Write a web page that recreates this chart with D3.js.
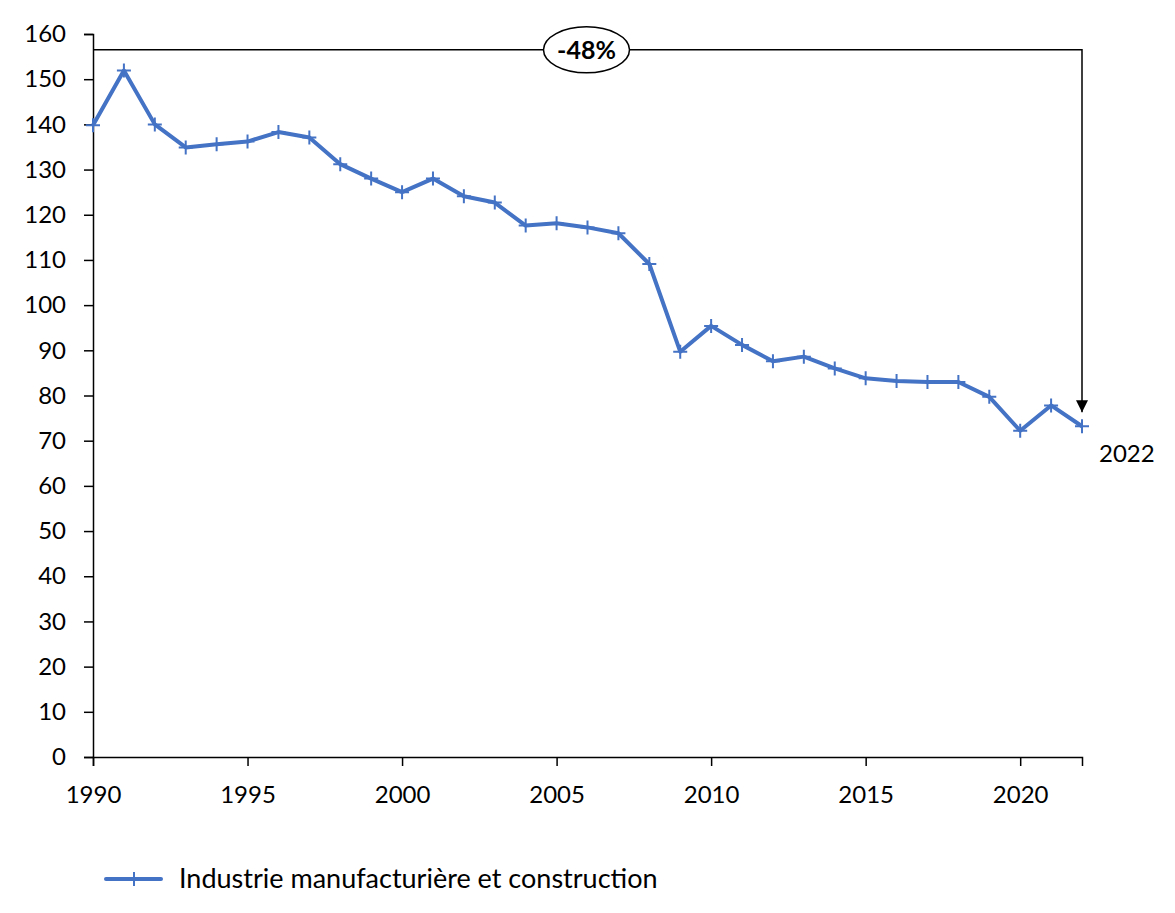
<!DOCTYPE html>
<html>
<head>
<meta charset="utf-8">
<script src="https://cdn.jsdelivr.net/npm/d3@7"></script>
<style>
  body { margin: 0; background: #fff; }
  text { font-family: Lato, "Open Sans", sans-serif; }
</style>
</head>
<body>
<div id="chart"></div>
<script>
// données
const years = d3.range(1990, 2023);
const values = [139.8, 151.9, 140.0, 134.9, 135.6, 136.2, 138.3, 137.1, 131.2, 128.0,
                125.0, 128.0, 124.1, 122.7, 117.6, 118.1, 117.2, 115.9, 109.1, 89.7,
                95.4, 91.2, 87.6, 88.6, 86.0, 83.8, 83.2, 83.0, 83.0, 79.7,
                72.2, 77.8, 73.2];
const yTicks = d3.range(0, 161, 10);
const xTicks = [1990, 1995, 2000, 2005, 2010, 2015, 2020];
const seriesName = 'Industrie manufacturière et construction';
const changeLabel = '-48%';
const endLabel = '2022';

const width = 1175, height = 913;
const blue = '#4472C4';

const svg = d3.select('#chart').append('svg')
    .attr('width', width)
    .attr('height', height);

const x = d3.scaleLinear().domain([1990, 2022]).range([93, 1082]);
const y = d3.scaleLinear().domain([0, 160]).range([757, 34]);

// axe Y
const yAxis = svg.append('g')
    .attr('transform', 'translate(93,0)')
    .call(d3.axisLeft(y).tickValues(yTicks).tickSize(9).tickPadding(18));
yAxis.select('.domain').attr('stroke', '#000').attr('stroke-width', 1.5);
yAxis.selectAll('.tick line').attr('stroke', '#000').attr('stroke-width', 1.5);
yAxis.selectAll('.tick text').attr('font-size', 24).attr('fill', '#000')
    .attr('font-family', 'Lato, sans-serif');

// axe X
const xAxis = svg.append('g')
    .attr('transform', 'translate(0,757)')
    .call(d3.axisBottom(x).tickValues(xTicks).tickFormat(d3.format('d')).tickSize(9));
xAxis.select('.domain').attr('stroke', '#000').attr('stroke-width', 1.5);
xAxis.selectAll('.tick line').attr('stroke', '#000').attr('stroke-width', 1.5);
xAxis.selectAll('.tick text').attr('font-size', 24).attr('fill', '#000')
    .attr('font-family', 'Lato, sans-serif')
    .attr('y', 46).attr('dy', 0);

// annotation -48%
const topY = y(156.5);
const lastY = y(values[values.length - 1]);
svg.append('defs').append('marker')
    .attr('id', 'arrow')
    .attr('viewBox', '0 0 10 10')
    .attr('refX', 10).attr('refY', 5)
    .attr('markerWidth', 12).attr('markerHeight', 12)
    .attr('markerUnits', 'userSpaceOnUse')
    .attr('orient', 'auto')
    .append('path').attr('d', 'M0,0 L10,5 L0,10 Z').attr('fill', '#000');

svg.append('path')
    .attr('d', `M${x(1990)},${topY} H${x(2022)} V${lastY - 14}`)
    .attr('fill', 'none')
    .attr('stroke', '#000')
    .attr('stroke-width', 1.5)
    .attr('marker-end', 'url(#arrow)');

const cx = x(2006) - 1;
svg.append('ellipse')
    .attr('cx', cx).attr('cy', topY)
    .attr('rx', 43).attr('ry', 23)
    .attr('fill', '#fff').attr('stroke', '#000').attr('stroke-width', 1.5);
svg.append('text')
    .attr('x', cx).attr('y', topY + 9)
    .attr('text-anchor', 'middle')
    .attr('font-size', 25).attr('font-weight', 'bold')
    .text(changeLabel);

// série
const data = years.map((yr, i) => ({ year: yr, value: values[i] }));
const line = d3.line().x(d => x(d.year)).y(d => y(d.value));

svg.append('path')
    .datum(data)
    .attr('d', line)
    .attr('fill', 'none')
    .attr('stroke', blue)
    .attr('stroke-width', 4)
    .attr('stroke-linejoin', 'round');

svg.append('g')
    .selectAll('path')
    .data(data)
    .enter()
    .append('path')
    .attr('transform', d => `translate(${x(d.year)},${y(d.value)})`)
    .attr('d', 'M-7,0 H7 M0,-7 V7')
    .attr('stroke', blue)
    .attr('stroke-width', 2)
    .attr('fill', 'none');

svg.append('text')
    .attr('x', 1099).attr('y', 462)
    .attr('font-size', 24)
    .text(endLabel);

// légende
const lg = svg.append('g').attr('transform', 'translate(0,879)');
lg.append('line')
    .attr('x1', 106).attr('x2', 161)
    .attr('stroke', blue).attr('stroke-width', 4).attr('stroke-linecap', 'round');
lg.append('path')
    .attr('d', 'M127,0 H141 M134,-7 V7')
    .attr('stroke', blue).attr('stroke-width', 2);
lg.append('text')
    .attr('x', 179).attr('y', 9)
    .attr('font-size', 27)
    .text(seriesName);
</script>
</body>
</html>
